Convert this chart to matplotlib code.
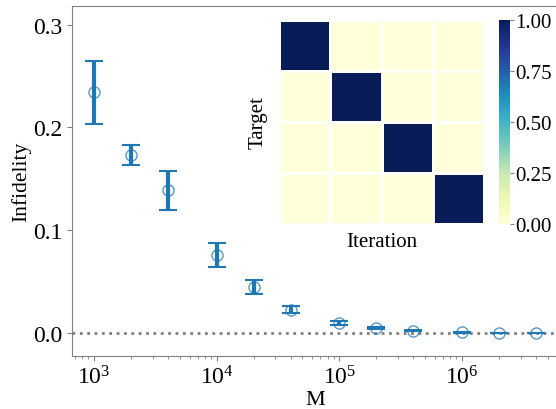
import numpy as np
import matplotlib

matplotlib.use("Agg")
import matplotlib.pyplot as plt

plt.rcParams["font.family"] = ["Liberation Serif", "DejaVu Serif"]
plt.rcParams["mathtext.fontset"] = "stix"

# sample sizes and measured infidelity (mean, error)
M = [1e3, 2e3, 4e3, 1e4, 2e4, 4e4, 1e5, 2e5, 4e5, 1e6, 2e6, 4e6]
infid = [0.234, 0.173, 0.139, 0.076, 0.045, 0.023, 0.010, 0.005, 0.0025, 0.001, 0.0005, 0.0003]
err = [0.031, 0.0095, 0.019, 0.012, 0.0068, 0.0035, 0.0016, 0.001, 0.0006, 0.0004, 0.0003, 0.0002]

# inset: target vs iteration assignment
assign = np.eye(4)
cbar_ticks = [0.0, 0.25, 0.5, 0.75, 1.0]

gray = "#808080"
blue = "#1f77b4"

fig = plt.figure(figsize=(5.56, 4.10), dpi=100)
ax = fig.add_axes([72 / 556, 53 / 410, 486 / 556, 350 / 410])

ax.axhline(0, color=gray, ls=":", lw=2, zorder=0)
ax.errorbar(M, infid, yerr=err, fmt="none", ecolor=blue, elinewidth=3,
            capsize=6.5, capthick=1.5)
ax.plot(M, infid, "o", mfc="none", mec=blue, mew=1, ms=8, alpha=0.75)
ax.set_xscale("log")
ax.set_ylim(-0.022, 0.318)
ax.set_yticks([0.0, 0.1, 0.2, 0.3])
ax.set_xlabel("M", fontsize=16, labelpad=1)
ax.set_ylabel("Infidelity", fontsize=15.5, labelpad=1)
ax.tick_params(labelsize=17, colors="black", color=gray)
ax.tick_params(which="minor", color=gray)
for s in ax.spines.values():
    s.set_color(gray)
ax.spines["right"].set_visible(False)

# inset heatmap
ins = fig.add_axes([279 / 556, 185 / 410, 205 / 556, 204 / 410])
mesh = ins.pcolormesh(assign, cmap="YlGnBu", vmin=0, vmax=1,
                      edgecolor="white", linewidth=0.8)
ins.set_xlim(0, 4)
ins.set_ylim(4, 0)
ins.set_xticks([])
ins.set_yticks([])
for s in ins.spines.values():
    s.set_visible(False)
ins.set_xlabel("Iteration", fontsize=15, labelpad=6)
ins.set_ylabel("Target", fontsize=15, labelpad=8)

cax = fig.add_axes([499 / 556, 185 / 410, 11 / 556, 204 / 410])
cb = fig.colorbar(mesh, cax=cax, ticks=cbar_ticks)
cb.outline.set_visible(False)
cb.ax.set_yticklabels([f"{t:.2f}" for t in cbar_ticks])
cb.ax.tick_params(labelsize=15, color=gray, length=3, pad=1)

fig.savefig("out.png", dpi=100)
